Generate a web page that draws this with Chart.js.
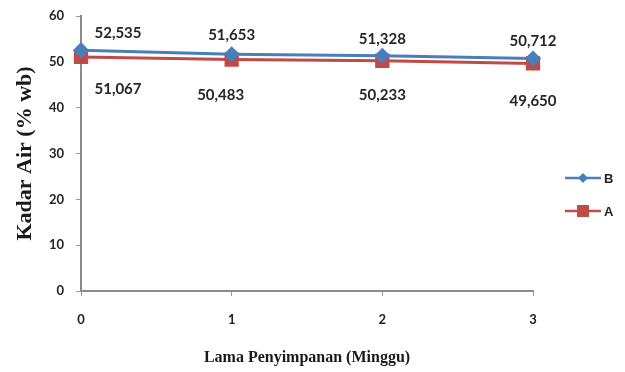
<!DOCTYPE html>
<html>
<head>
<meta charset="utf-8">
<script src="https://cdn.jsdelivr.net/npm/chart.js@4/dist/chart.umd.min.js"></script>
<style>
  html, body { margin: 0; padding: 0; background: #fff; }
  #wrap { width: 625px; height: 372px; position: relative; }
</style>
</head>
<body>
<div id="wrap"><canvas id="c" width="625" height="372"></canvas></div>
<script>
// Storage time (weeks) and moisture content (% wet basis)
const weeks = ['0', '1', '2', '3'];
const seriesB = [52.535, 51.653, 51.328, 50.712];
const seriesA = [51.067, 50.483, 50.233, 49.650];
const yTicks = [0, 10, 20, 30, 40, 50, 60];

const BLUE = '#4A7EBB';
const RED = '#BE4B48';
const LABEL_COLOR = '#262626';

// value label offsets (dx, dy) from each point
const labelOffsetsB = [[37, -17], [0, -19], [0, -17], [0, -17]];
const labelOffsetsA = [[37, 32], [-11, 36], [0, 34], [0, 38]];

const fmt = v => v.toFixed(3).replace('.', ',');

const valueLabels = {
  id: 'valueLabels',
  afterDatasetsDraw(chart) {
    const ctx = chart.ctx;
    ctx.save();
    ctx.font = 'bold 15px Lato, "Open Sans", sans-serif';
    ctx.fillStyle = LABEL_COLOR;
    ctx.textAlign = 'center';
    ctx.textBaseline = 'middle';
    chart.data.datasets.forEach((ds, di) => {
      const meta = chart.getDatasetMeta(di);
      const offs = ds.labelOffsets;
      meta.data.forEach((pt, i) => {
        const [dx, dy] = offs[i];
        ctx.fillText(fmt(ds.data[i]), pt.x + dx, pt.y + dy);
      });
    });
    ctx.restore();
  }
};

const sideLegend = {
  id: 'sideLegend',
  afterDraw(chart) {
    const ctx = chart.ctx;
    const items = [
      { ds: chart.data.datasets[0], y: 178 },
      { ds: chart.data.datasets[1], y: 211 }
    ];
    ctx.save();
    items.forEach(({ ds, y }) => {
      const x0 = 565, x1 = 601, xm = 583;
      ctx.strokeStyle = ds.borderColor;
      ctx.lineWidth = 2.5;
      ctx.beginPath();
      ctx.moveTo(x0, y);
      ctx.lineTo(x1, y);
      ctx.stroke();
      ctx.fillStyle = ds.pointBackgroundColor;
      if (ds.pointStyle === 'rectRot') {
        ctx.beginPath();
        ctx.moveTo(xm, y - 5);
        ctx.lineTo(xm + 5, y);
        ctx.lineTo(xm, y + 5);
        ctx.lineTo(xm - 5, y);
        ctx.closePath();
        ctx.fill();
      } else {
        ctx.fillRect(xm - 6, y - 6, 12, 12);
      }
      ctx.fillStyle = '#222';
      ctx.font = 'bold 13px "Liberation Sans", Arial, sans-serif';
      ctx.textAlign = 'left';
      ctx.textBaseline = 'middle';
      ctx.fillText(ds.label, x1 + 3, y + 1);
    });
    ctx.restore();
  }
};

new Chart(document.getElementById('c'), {
  type: 'line',
  data: {
    labels: weeks,
    datasets: [
      {
        label: 'B',
        data: seriesB,
        borderColor: BLUE,
        backgroundColor: BLUE,
        pointBackgroundColor: BLUE,
        pointBorderColor: BLUE,
        borderWidth: 3,
        pointStyle: 'rectRot',
        pointRadius: 6,
        tension: 0,
        labelOffsets: labelOffsetsB
      },
      {
        label: 'A',
        data: seriesA,
        borderColor: RED,
        backgroundColor: RED,
        pointBackgroundColor: RED,
        pointBorderColor: RED,
        borderWidth: 3,
        pointStyle: 'rect',
        pointRadius: 8,
        tension: 0,
        labelOffsets: labelOffsetsA
      }
    ]
  },
  options: {
    responsive: false,
    animation: false,
    devicePixelRatio: 1,
    layout: { padding: { left: 0, top: 16, right: 92, bottom: 0 } },
    plugins: {
      legend: { display: false },
      tooltip: { enabled: false }
    },
    scales: {
      x: {
        type: 'category',
        offset: false,
        afterFit: s => { s.height = 81; },
        grid: {
          drawOnChartArea: false,
          drawTicks: true,
          tickLength: 5,
          color: '#9a9a9a',
          lineWidth: 1
        },
        border: { color: '#8c8c8c', width: 2 },
        ticks: {
          padding: 16,
          color: '#222',
          font: { family: 'Lato, "Open Sans", sans-serif', size: 13, weight: 'bold' },
          maxRotation: 0
        },
        title: {
          display: true,
          text: 'Lama Penyimpanan (Minggu)',
          color: '#1a1a1a',
          font: { family: '"Liberation Serif", "Times New Roman", serif', size: 16, weight: 'bold' },
          padding: { top: 0, bottom: 5 }
        }
      },
      y: {
        min: 0,
        max: 60,
        afterFit: s => { s.width = 81; s.paddingTop = 8; s.paddingBottom = 8; },
        afterBuildTicks: s => { s.ticks = yTicks.map(v => ({ value: v })); },
        grid: {
          drawOnChartArea: false,
          drawTicks: true,
          tickLength: 5,
          color: '#9a9a9a',
          lineWidth: 1
        },
        border: { color: '#8c8c8c', width: 2 },
        ticks: {
          padding: 12,
          color: '#222',
          font: { family: 'Lato, "Open Sans", sans-serif', size: 13, weight: 'bold' }
        },
        title: {
          display: true,
          text: 'Kadar Air (% wb)',
          color: '#1a1a1a',
          font: { family: '"Liberation Serif", "Times New Roman", serif', size: 22, weight: 'bold' },
          padding: { top: 12, bottom: 0 }
        }
      }
    }
  },
  plugins: [valueLabels, sideLegend]
});
</script>
</body>
</html>
